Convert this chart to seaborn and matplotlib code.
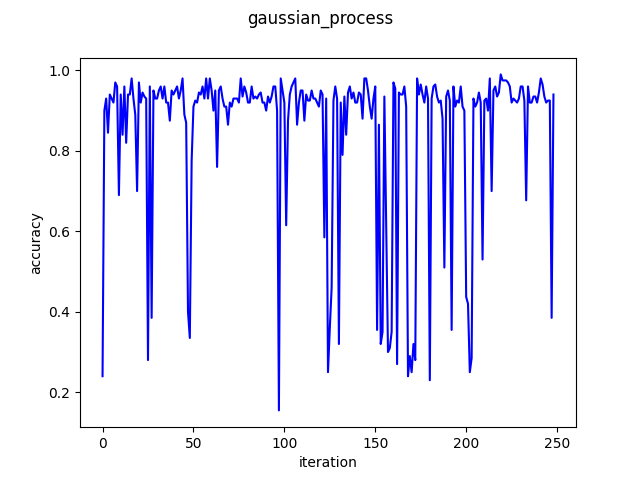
import matplotlib
matplotlib.use('Agg')
import matplotlib.pyplot as plt
import seaborn as sns
import pandas as pd

# Valores (accuracy por iteración)
accuracy = [
    0.24, 0.90, 0.93, 0.845, 0.94, 0.93, 0.92, 0.97, 0.96, 0.69,      # 0-9
    0.94, 0.84, 0.96, 0.82, 0.94, 0.94, 0.98, 0.93, 0.89, 0.70,       # 10-19
    0.97, 0.92, 0.945, 0.935, 0.93, 0.28, 0.96, 0.385, 0.95, 0.93,    # 20-29
    0.93, 0.95, 0.96, 0.93, 0.96, 0.92, 0.92, 0.875, 0.95, 0.94,      # 30-39
    0.95, 0.96, 0.93, 0.95, 0.98, 0.89, 0.87, 0.40, 0.335, 0.775,     # 40-49
    0.91, 0.925, 0.92, 0.945, 0.94, 0.96, 0.93, 0.98, 0.93, 0.98,     # 50-59
    0.95, 0.90, 0.95, 0.76, 0.95, 0.96, 0.93, 0.91, 0.91, 0.865,      # 60-69
    0.92, 0.91, 0.93, 0.93, 0.93, 0.92, 0.98, 0.935, 0.96, 0.945,     # 70-79
    0.92, 0.92, 0.96, 0.93, 0.935, 0.93, 0.94, 0.945, 0.92, 0.92,     # 80-89
    0.90, 0.935, 0.92, 0.935, 0.96, 0.96, 0.90, 0.155, 0.98, 0.95,    # 90-99
    0.92, 0.615, 0.875, 0.94, 0.96, 0.97, 0.98, 0.865, 0.92, 0.95,    # 100-109
    0.95, 0.875, 0.94, 0.925, 0.925, 0.95, 0.93, 0.93, 0.92, 0.91,    # 110-119
    0.95, 0.94, 0.585, 0.93, 0.25, 0.36, 0.46, 0.925, 0.96, 0.93,     # 120-129
    0.32, 0.92, 0.79, 0.935, 0.84, 0.945, 0.96, 0.93, 0.945, 0.92,    # 130-139
    0.92, 0.945, 0.94, 0.88, 0.98, 0.98, 0.95, 0.91, 0.88, 0.93,      # 140-149
    0.96, 0.355, 0.865, 0.32, 0.35, 0.935, 0.62, 0.30, 0.31, 0.35,    # 150-159
    0.97, 0.955, 0.27, 0.945, 0.94, 0.94, 0.96, 0.91, 0.24, 0.29,     # 160-169
    0.25, 0.32, 0.28, 0.98, 0.94, 0.965, 0.94, 0.92, 0.96, 0.93,      # 170-179
    0.23, 0.93, 0.96, 0.965, 0.935, 0.92, 0.925, 0.88, 0.51, 0.935,   # 180-189
    0.95, 0.925, 0.355, 0.96, 0.91, 0.925, 0.92, 0.96, 0.91, 0.90,    # 190-199
    0.437, 0.42, 0.25, 0.285, 0.93, 0.91, 0.92, 0.945, 0.92, 0.53,    # 200-209
    0.925, 0.93, 0.90, 0.98, 0.70, 0.95, 0.96, 0.935, 0.945, 0.99,    # 210-219
    0.975, 0.975, 0.975, 0.97, 0.96, 0.92, 0.93, 0.925, 0.92, 0.93,   # 220-229
    0.96, 0.96, 0.925, 0.677, 0.96, 0.92, 0.92, 0.935, 0.935, 0.92,   # 230-239
    0.945, 0.98, 0.965, 0.935, 0.92, 0.925, 0.925, 0.385, 0.94,       # 240-248
]
iteration = list(range(len(accuracy)))

df = pd.DataFrame({"iteration": iteration, "accuracy": accuracy})

fig, ax = plt.subplots(figsize=(6.4, 4.8), dpi=100)
sns.lineplot(data=df, x="iteration", y="accuracy", color="blue", ax=ax)
fig.suptitle("gaussian_process")
ax.set_xlabel("iteration")
ax.set_ylabel("accuracy")

plt.savefig("out.png", dpi=100)
plt.close()
